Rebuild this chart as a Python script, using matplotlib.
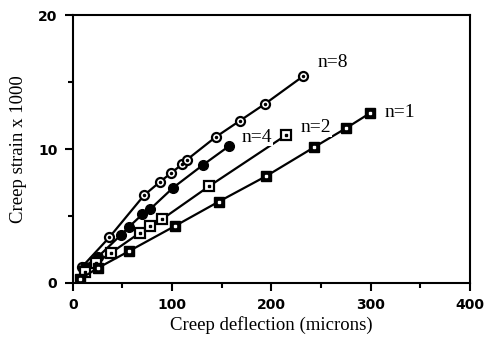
#! /usr/bin/env python3
import matplotlib.pyplot as plt

# Creep data (deflection in microns, strain x 1000)
x_n8 = [9, 37, 72, 88, 99, 110, 115, 144, 168, 194, 232]
y_n8 = [1.15, 3.4, 6.55, 7.55, 8.2, 8.85, 9.2, 10.9, 12.1, 13.4, 15.45]

x_n4 = [12, 25, 49, 57, 70, 78, 101, 131, 157]
y_n4 = [1.2, 1.9, 3.6, 4.2, 5.1, 5.5, 7.1, 8.8, 10.2]

x_n2 = [12, 23, 39, 68, 78, 90, 137, 215]
y_n2 = [0.8, 1.45, 2.25, 3.75, 4.25, 4.75, 7.2, 11.05]

x_n1 = [7, 25, 57, 103, 147, 195, 243, 275, 299]
y_n1 = [0.25, 1.08, 2.37, 4.24, 6.06, 7.98, 10.13, 11.55, 12.67]

labels = ['n=8', 'n=4', 'n=2', 'n=1']
label_pos = [(247, 16.5), (170, 10.9), (229, 11.6), (314, 12.7)]

serif = 'Liberation Serif'

fig = plt.figure(figsize=(4.88, 3.43), dpi=100)
ax = fig.add_axes([0.149, 0.176, 0.814, 0.779])

lw = 1.6
ms = 6.5
ax.plot(x_n8, y_n8, color='black', lw=lw, marker='o', ms=ms, mfc='white', mec='black', mew=1.6)
ax.plot(x_n8, y_n8, ls='none', marker='o', ms=1.5, color='black')
ax.plot(x_n4, y_n4, color='black', lw=lw, marker='o', ms=ms + 0.5, mfc='black', mec='black')
ax.plot(x_n2, y_n2, color='black', lw=lw, marker='s', ms=ms, mfc='white', mec='black', mew=1.6)
ax.plot(x_n2, y_n2, ls='none', marker='s', ms=1.5, color='black')
ax.plot(x_n1, y_n1, color='black', lw=lw, marker='s', ms=ms, mfc='black', mec='black')
ax.plot(x_n1, y_n1, ls='none', marker='s', ms=1.5, color='white')

for txt, (tx, ty) in zip(labels, label_pos):
    ax.text(tx, ty, txt, family=serif, fontsize=14, va='center', ha='left',
            bbox=dict(facecolor='white', edgecolor='none', pad=0.5), zorder=5)

ax.set_xlim(0, 400)
ax.set_ylim(0, 20)
ax.set_xticks([0, 100, 200, 300, 400])
ax.set_xticks([50, 150, 250, 350], minor=True)
ax.set_yticks([0, 10, 20])
ax.set_yticks([5, 15], minor=True)

for sp in ax.spines.values():
    sp.set_linewidth(1.5)
ax.tick_params(which='major', direction='out', length=6, width=1.5, pad=5)
ax.tick_params(which='minor', direction='out', length=3.5, width=1.5)
for lab in ax.get_xticklabels() + ax.get_yticklabels():
    lab.set_fontfamily('DejaVu Sans')
    lab.set_fontweight('bold')
    lab.set_fontsize(10)

ax.set_xlabel('Creep deflection (microns)', family=serif, fontsize=13.5, labelpad=3)
ax.set_ylabel('Creep strain x 1000', family=serif, fontsize=13.5, labelpad=8)

fig.savefig('out.png', dpi=100)
